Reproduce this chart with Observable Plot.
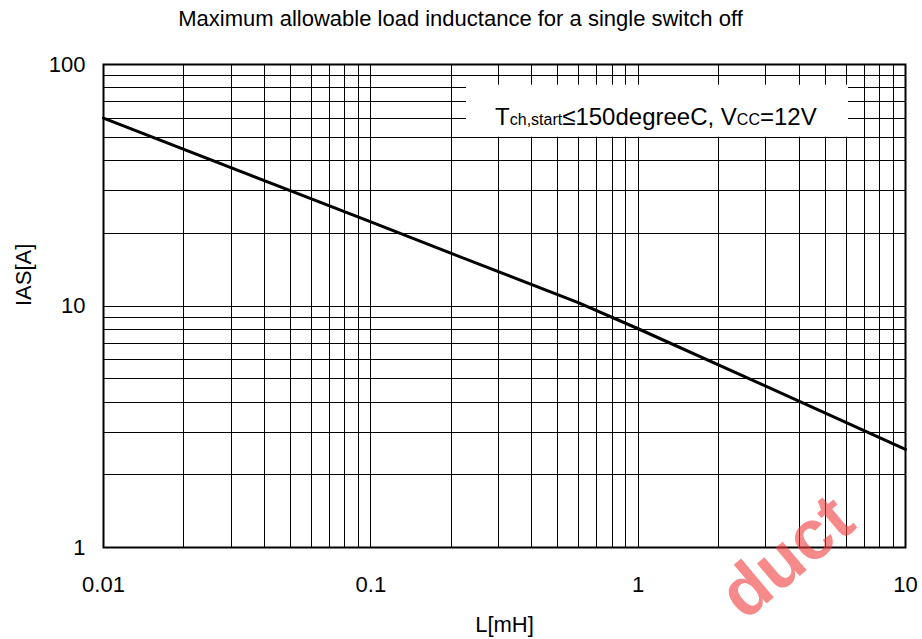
<!DOCTYPE html>
<html>
<head>
<meta charset="utf-8">
<script src="https://cdn.jsdelivr.net/npm/d3@7"></script>
<script src="https://cdn.jsdelivr.net/npm/@observablehq/plot@0.6"></script>
<style>
  html, body { margin: 0; padding: 0; background: white; }
  #chart svg { display: block; }
</style>
</head>
<body>
<div id="chart"></div>
<script>
// ---- data ----
const inductance = [0.01, 0.1, 0.2, 0.6, 1, 3, 10];         // L [mH]
const current    = [60, 22.3, 16.5, 10.3, 8.05, 4.66, 2.55]; // IAS [A]

const title = "Maximum allowable load inductance for a single switch off";
const xLabel = "L[mH]";
const yLabel = "IAS[A]";
const xTickValues = [0.01, 0.1, 1, 10];
const xTickLabels = ["0.01", "0.1", "1", "10"];
const yTickValues = [1, 10, 100];
const yTickLabels = ["1", "10", "100"];
const xDecades = [0.01, 0.1, 1];
const yDecades = [1, 10];
const multipliers = [1, 2, 3, 4, 5, 6, 7, 8, 9];
const noteBox = [{x1: 0.228, x2: 6.12, y1: 50, y2: 82}];
const notePos = {x: 1.17, y: 56};
const watermark = "duct";

const gridX = xDecades.flatMap(d => multipliers.map(m => d * m)).concat([10]);
const gridY = yDecades.flatMap(d => multipliers.map(m => d * m)).concat([100]);
const table = inductance.map((L, i) => ({L, I: current[i]}));

const font = "'Liberation Sans', Arial, Helvetica, sans-serif";

const chart = Plot.plot({
  width: 922,
  height: 639,
  marginLeft: 103,
  marginRight: 17,
  marginTop: 64,
  marginBottom: 92,
  style: {fontFamily: font, background: "white", color: "black"},
  x: {type: "log", domain: [0.01, 10], axis: null},
  y: {type: "log", domain: [1, 100], axis: null},
  marks: [
    Plot.ruleX(gridX, {stroke: "black", strokeWidth: 1, shapeRendering: "crispEdges"}),
    Plot.ruleY(gridY, {stroke: "black", strokeWidth: 1, shapeRendering: "crispEdges"}),
    Plot.rect(noteBox, {x1: "x1", x2: "x2", y1: "y1", y2: "y2", fill: "white"}),
    Plot.line(table, {x: "L", y: "I", stroke: "black", strokeWidth: 3}),
    Plot.frame({stroke: "black", strokeWidth: 2}),
    Plot.text(xTickValues, {x: d => d, text: (d, i) => xTickLabels[i], frameAnchor: "bottom", dy: 37, fontSize: 22, lineAnchor: "middle"}),
    Plot.text(yTickValues, {y: d => d, text: (d, i) => yTickLabels[i], frameAnchor: "left", dx: -18, textAnchor: "end", fontSize: 22, lineAnchor: "middle"}),
    Plot.text([title], {frameAnchor: "top", dx: -44, dy: -46, fontSize: 22, lineAnchor: "middle"}),
    Plot.text([xLabel], {frameAnchor: "bottom", dy: 77, fontSize: 22, lineAnchor: "middle"}),
    Plot.text([yLabel], {frameAnchor: "left", dx: -80, rotate: -90, fontSize: 22, lineAnchor: "middle"})
  ]
});

// annotation with subscripts
const sx = chart.scale("x"), sy = chart.scale("y");
const svg = d3.select(chart);
const note = svg.append("text")
  .attr("x", sx.apply(notePos.x))
  .attr("y", sy.apply(notePos.y))
  .attr("text-anchor", "middle")
  .attr("font-family", font)
  .attr("font-size", 24)
  .attr("fill", "black");
note.append("tspan").text("T");
note.append("tspan").attr("font-size", 16).text("ch,start");
note.append("tspan").text("\u2264150degreeC, V");
note.append("tspan").attr("font-size", 16).text("CC");
note.append("tspan").text("=12V");

// watermark fragment
svg.append("text")
  .attr("transform", "translate(786,556) rotate(-40)")
  .attr("text-anchor", "middle")
  .attr("dominant-baseline", "central")
  .attr("font-family", font)
  .attr("font-weight", "bold")
  .attr("font-size", 70)
  .attr("fill", "rgb(240,60,60)")
  .attr("fill-opacity", 0.6)
  .text(watermark);

document.getElementById("chart").appendChild(chart);
</script>
</body>
</html>
